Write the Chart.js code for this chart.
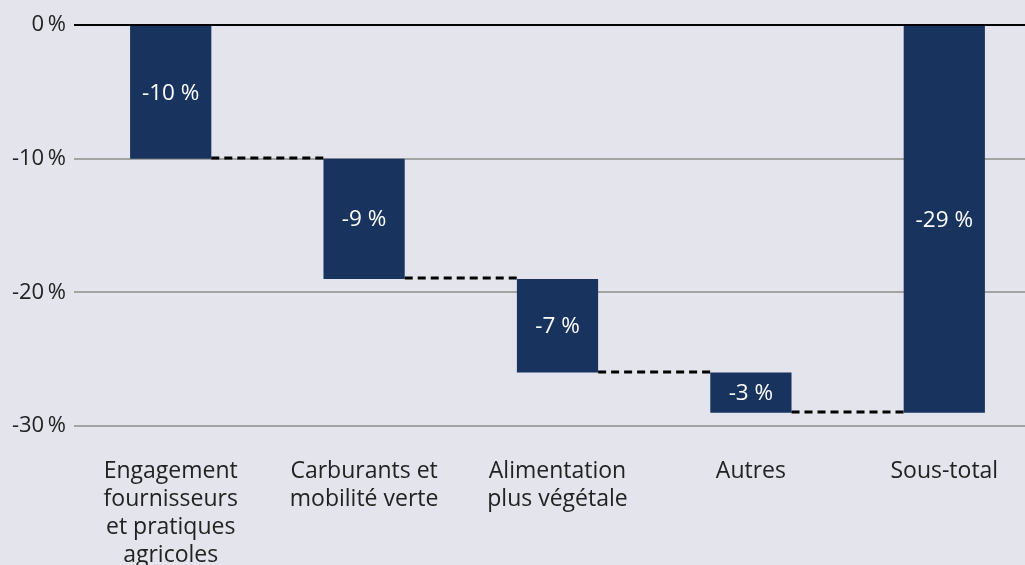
<!DOCTYPE html>
<html>
<head>
<meta charset="utf-8">
<script src="https://cdn.jsdelivr.net/npm/chart.js@4"></script>
<style>
  html, body { margin: 0; padding: 0; overflow: hidden; background: #e3e4ec; }
  #wrap { width: 1041px; height: 565px; }
</style>
</head>
<body>
<div id="wrap"><canvas id="myChart"></canvas></div>
<script>
// les données du graphique
const categories = [
  ["Engagement", "fournisseurs", "et pratiques", "agricoles"],
  ["Carburants et", "mobilité verte"],
  ["Alimentation", "plus végétale"],
  ["Autres"],
  ["Sous-total"],
];
const barStarts = [0, -10, -19, -26, 0];
const barEnds = [-10, -19, -26, -29, -29];
const barLabels = ["-10 %", "-9 %", "-7 %", "-3 %", "-29 %"];
const yTickValues = [0, -10, -20, -30];

const fontFamily = "'Open Sans', 'Noto Sans', sans-serif";
const navy = "#17335e";

// texte blanc au milieu des barres
const labelPlugin = {
  id: "barLabels",
  afterDatasetsDraw(chart) {
    const ctx = chart.ctx;
    const meta = chart.getDatasetMeta(0);
    ctx.save();
    ctx.fillStyle = "#ffffff";
    ctx.font = "22.5px " + fontFamily;
    ctx.textAlign = "center";
    ctx.textBaseline = "middle";
    meta.data.forEach((bar, i) => {
      const y = (bar.y + bar.base) / 2 + 1;
      ctx.fillText(barLabels[i], bar.x, y);
    });
    ctx.restore();
  },
};

// lignes pointillées entre les barres
const connectorPlugin = {
  id: "connectors",
  afterDatasetsDraw(chart) {
    const ctx = chart.ctx;
    const meta = chart.getDatasetMeta(0);
    const yScale = chart.scales.y;
    ctx.save();
    ctx.strokeStyle = "#000000";
    ctx.lineWidth = 3;
    ctx.setLineDash([8, 5]);
    for (let i = 0; i < meta.data.length - 1; i++) {
      const a = meta.data[i];
      const b = meta.data[i + 1];
      const y = Math.round(yScale.getPixelForValue(barEnds[i])) - 1;
      ctx.beginPath();
      ctx.moveTo(a.x + a.width / 2, y);
      ctx.lineTo(b.x - b.width / 2, y);
      ctx.stroke();
    }
    ctx.restore();
  },
};

const ctx = document.getElementById("myChart");

new Chart(ctx, {
  type: "bar",
  data: {
    labels: categories,
    datasets: [
      {
        data: barStarts.map((s, i) => [s, barEnds[i]]),
        backgroundColor: navy,
        borderWidth: 0,
        barPercentage: 0.84,
        categoryPercentage: 0.5,
      },
    ],
  },
  options: {
    responsive: true,
    maintainAspectRatio: false,
    animation: false,
    layout: { padding: { top: 25, right: 0, left: 0, bottom: 0 } },
    plugins: {
      legend: { display: false },
      tooltip: { enabled: false },
    },
    scales: {
      x: {
        afterFit(scale) {
          scale.height = 139;
        },
        grid: { display: false, drawTicks: false },
        border: { display: false },
        ticks: {
          color: "#222222",
          font: { family: fontFamily, size: 23, lineHeight: 1.22 },
          padding: 31,
          maxRotation: 0,
          autoSkip: false,
        },
      },
      y: {
        min: -30,
        max: 0,
        afterFit(scale) {
          scale.width = 74;
        },
        afterBuildTicks(scale) {
          scale.ticks = yTickValues.map((v) => ({ value: v }));
        },
        grid: {
          drawTicks: false,
          lineWidth: 2,
          color: (c) => (c.tick && c.tick.value === 0 ? "#000000" : "#a3a3a3"),
        },
        border: { display: false },
        ticks: {
          color: "#222222",
          font: { family: fontFamily, size: 22 },
          padding: 8,
          callback: (v) => v + "\u2009%",
        },
      },
    },
  },
  plugins: [labelPlugin, connectorPlugin],
});
</script>
</body>
</html>
